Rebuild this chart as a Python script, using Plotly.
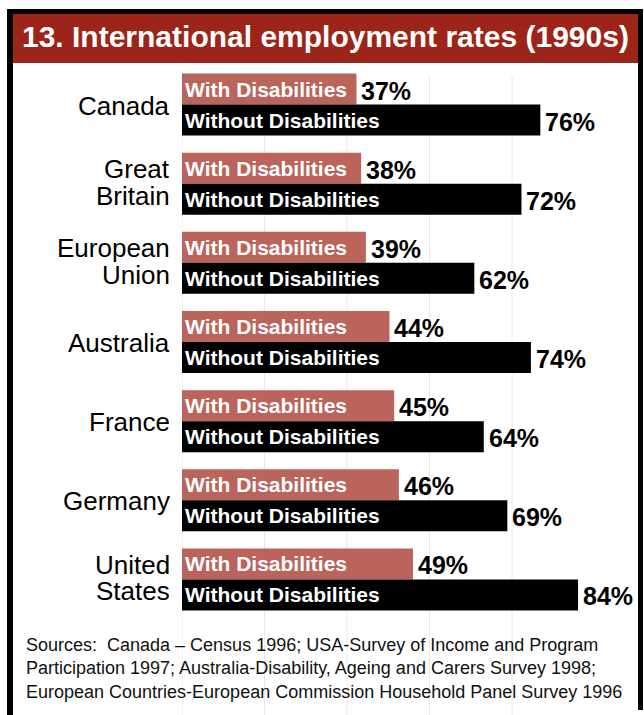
import plotly.graph_objects as go

# Employment rates (%) by country, 1990s
countries = ["Canada", "Great Britain", "European Union", "Australia",
             "France", "Germany", "United States"]
country_lines = [["Canada"], ["Great", "Britain"], ["European", "Union"],
                 ["Australia"], ["France"], ["Germany"], ["United", "States"]]
with_dis = [37, 38, 39, 44, 45, 46, 49]
without_dis = [76, 72, 62, 74, 64, 69, 84]
series_names = ["With Disabilities", "Without Disabilities"]
grid_values = [0, 17.5, 35, 52.5, 70]

title_text = "13. International employment rates (1990s)"
sources_text = ("Sources:\u00a0 Canada \u2013 Census 1996; USA-Survey of Income and Program<br>"
                "Participation 1997; Australia-Disability, Ageing and Carers Survey 1998;<br>"
                "European Countries-European Commission Household Panel Survey 1996")

FONT = "Liberation Sans, Arial, Helvetica, sans-serif"
RED_BAND = "#9C2419"
WITH_COLOR = "#BA645C"
WITHOUT_COLOR = "#000000"
GRID_COLOR = "#F4E4E4"

W, H = 644, 715
ML, MR, MT, MB = 182, 7, 65, 96
X0, X1 = ML, W - MR
Y_TOP, Y_BOT = MT, H - MB


def px_x(p):
    return (p - X0) / (X1 - X0)


def px_y(p):
    return (Y_BOT - p) / (Y_BOT - Y_TOP)


fig = go.Figure()
for name, vals, color in [(series_names[0], with_dis, WITH_COLOR),
                          (series_names[1], without_dis, WITHOUT_COLOR)]:
    fig.add_trace(go.Bar(
        x=vals, y=countries, orientation="h", name=name,
        marker=dict(color=color, line=dict(width=0)),
        text=[name] * len(vals), textposition="inside",
        insidetextanchor="start", constraintext="none",
        textfont=dict(family=FONT, size=21, color="white", weight="bold"),
        hoverinfo="skip",
    ))

annotations = []
# value labels to the right of each bar
for c, v1, v2 in zip(countries, with_dis, without_dis):
    for v, ys in [(v1, 15.5), (v2, -15.5)]:
        annotations.append(dict(
            x=v, y=c, xref="x", yref="y", text=f"<b>{v}%</b>",
            showarrow=False, xanchor="left", yanchor="middle",
            xshift=3, yshift=ys - 1.5,
            font=dict(family=FONT, size=25, color="black"),
        ))

# country labels
for c, lines in zip(countries, country_lines):
    if len(lines) == 1:
        shifts = [-1]
    else:
        shifts = [14.5, -12]
    for line, ys in zip(lines, shifts):
        annotations.append(dict(
            x=0, y=c, xref="paper", yref="y", text=line,
            showarrow=False, xanchor="right", yanchor="middle",
            xshift=-10, yshift=ys,
            font=dict(family=FONT, size=26, color="black"),
        ))

# title
annotations.append(dict(
    x=px_x(325.5), y=px_y(36.5), xref="paper", yref="paper",
    text=f"<b>{title_text}</b>", showarrow=False,
    xanchor="center", yanchor="middle",
    font=dict(family=FONT, size=30, color="white"),
))

# sources
annotations.append(dict(
    x=px_x(24), y=px_y(633), xref="paper", yref="paper",
    text=sources_text, showarrow=False, align="left",
    xanchor="left", yanchor="top",
    font=dict(family=FONT, size=18, color="#111111"),
))

shapes = []
# vertical grid lines running through the chart down to the bottom
for g in grid_values:
    shapes.append(dict(type="line", xref="x", yref="paper",
                       x0=g, x1=g, y0=px_y(76), y1=px_y(H + 5),
                       line=dict(color=GRID_COLOR, width=1), layer="below"))
# title band
shapes.append(dict(type="rect", xref="paper", yref="paper",
                   x0=px_x(13), x1=px_x(638), y0=px_y(14), y1=px_y(63),
                   fillcolor=RED_BAND, line=dict(width=0), layer="below"))
# frame
for (a, b, c, d) in [(7, 13, 9, H + 5), (7, 643, 9, 14), (638, 643, 9, 710)]:
    shapes.append(dict(type="rect", xref="paper", yref="paper",
                       x0=px_x(a), x1=px_x(b), y0=px_y(c), y1=px_y(d),
                       fillcolor="black", line=dict(width=0), layer="above"))

fig.update_layout(
    width=W, height=H,
    margin=dict(l=ML, r=MR, t=MT, b=MB, pad=0),
    paper_bgcolor="white", plot_bgcolor="white",
    barmode="group", bargap=0.2165, bargroupgap=0,
    showlegend=False,
    xaxis=dict(range=[0, 96.5], showgrid=False, zeroline=False,
               showticklabels=False, showline=False, fixedrange=True),
    yaxis=dict(type="category", categoryorder="array", categoryarray=countries,
               range=[6.5, -0.5], showgrid=False, zeroline=False,
               showticklabels=False, showline=False, fixedrange=True),
    annotations=annotations, shapes=shapes,
    font=dict(family=FONT),
)

fig.write_html("out.html")
